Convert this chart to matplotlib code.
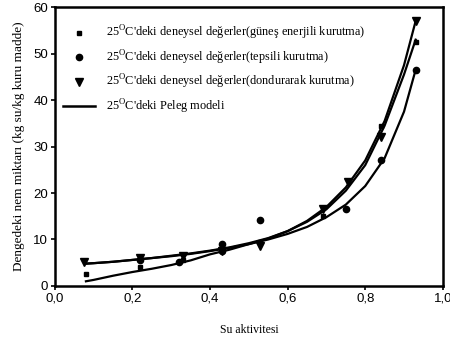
import numpy as np
import matplotlib
matplotlib.use("Agg")
import matplotlib.pyplot as plt
from matplotlib.ticker import FuncFormatter

# measured points (water activity, equilibrium moisture)
aw_gunes = [0.08, 0.22, 0.33, 0.43, 0.53, 0.69, 0.84, 0.93]
m_gunes = [2.5, 4.0, 5.5, 7.5, 9.5, 15.0, 34.5, 52.5]

aw_tepsi = [0.22, 0.32, 0.43, 0.43, 0.53, 0.75, 0.84, 0.93]
m_tepsi = [5.5, 5.1, 9.0, 7.5, 14.2, 16.5, 27.0, 46.5]

aw_dond = [0.075, 0.22, 0.33, 0.43, 0.53, 0.69, 0.755, 0.84, 0.93]
m_dond = [5.2, 6.0, 6.5, 7.5, 8.7, 16.5, 22.3, 32.0, 57.0]

# Peleg model curves
aw_model = [0.08, 0.10, 0.15, 0.20, 0.25, 0.30, 0.35, 0.40, 0.45, 0.50,
            0.55, 0.60, 0.65, 0.70, 0.75, 0.80, 0.85, 0.90, 0.93]
peleg_gunes = [1.0, 1.3, 2.2, 3.0, 3.7, 4.5, 5.5, 6.8, 7.8, 9.0,
               10.2, 11.8, 13.8, 16.5, 20.5, 26.0, 34.5, 45.5, 53.0]
peleg_dond = [4.8, 4.9, 5.2, 5.6, 6.0, 6.5, 7.0, 7.6, 8.3, 9.2,
              10.3, 11.8, 14.0, 17.0, 21.2, 27.0, 35.5, 47.5, 57.0]
peleg_tepsi = [4.8, 4.9, 5.2, 5.6, 6.0, 6.4, 6.9, 7.5, 8.2, 9.0,
               10.0, 11.2, 12.7, 14.8, 17.5, 21.5, 27.5, 37.5, 46.5]

serif = "Liberation Serif"
sans = "Liberation Sans"

fig = plt.figure(figsize=(4.5, 3.4), dpi=100)
ax = fig.add_axes([0.122, 0.159, 0.862, 0.82])

ax.plot(aw_model, peleg_gunes, color="black", lw=1.6)
ax.plot(aw_model, peleg_dond, color="black", lw=1.6)
ax.plot(aw_model, peleg_tepsi, color="black", lw=1.6)

ax.plot(aw_gunes, m_gunes, "s", color="black", ms=3, ls="none",
        label="25$^\\mathregular{O}$C'deki deneysel değerler(güneş enerjili kurutma)")
ax.plot(aw_tepsi, m_tepsi, "o", color="black", ms=4.5, ls="none",
        label="25$^\\mathregular{O}$C'deki deneysel değerler(tepsili kurutma)")
ax.plot(aw_dond, m_dond, "v", color="black", ms=5.5, ls="none",
        label="25$^\\mathregular{O}$C'deki deneysel değerler(dondurarak kurutma)")
ax.plot([], [], color="black", lw=1.8, label="25$^\\mathregular{O}$C'deki Peleg modeli")

ax.set_xlim(0, 1.0)
ax.set_ylim(0, 60)
ax.set_xticks([0, 0.2, 0.4, 0.6, 0.8, 1.0])
ax.set_yticks([0, 10, 20, 30, 40, 50, 60])
ax.xaxis.set_major_formatter(FuncFormatter(lambda v, p: f"{v:.1f}".replace(".", ",")))

for s in ax.spines.values():
    s.set_linewidth(1.8)
ax.tick_params(direction="out", length=3, width=1.2, labelsize=9.5, pad=2)
for t in ax.get_xticklabels() + ax.get_yticklabels():
    t.set_fontfamily(sans)

ax.set_xlabel("Su aktivitesi", fontfamily=serif, fontsize=8.5, labelpad=14)
ax.set_ylabel("Dengedeki nem miktarı (kg su/kg kuru madde)", fontfamily=serif,
              fontsize=9.5, labelpad=6)

ax.legend(loc="upper left", bbox_to_anchor=(0.0, 0.97), frameon=False,
          prop={"family": serif, "size": 8.8}, handlelength=2.6,
          labelspacing=0.5, handletextpad=0.9, borderaxespad=0.3)

fig.savefig("out.png", dpi=100)
